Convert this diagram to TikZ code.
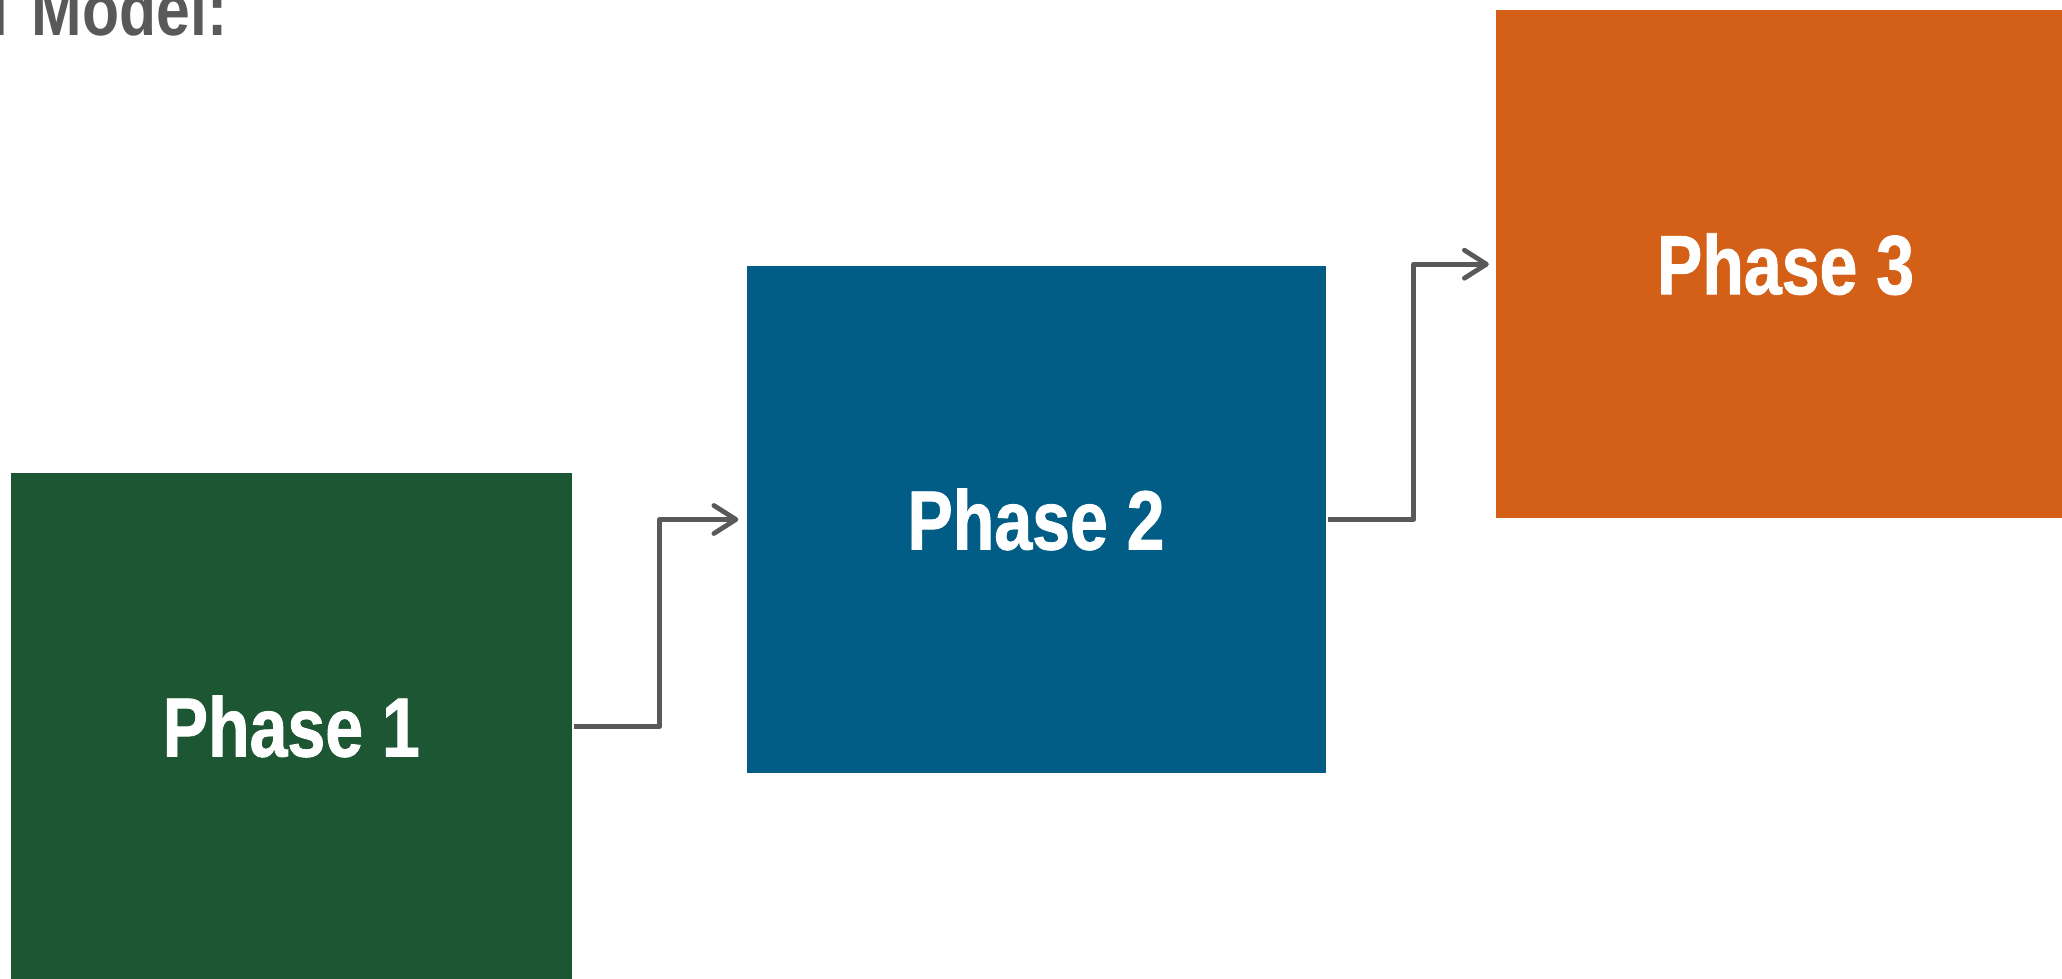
\documentclass[tikz,border=0pt]{standalone}
\usepackage{fontspec}
\setmainfont{Liberation Sans}
\newfontfamily\narrowfont[FakeStretch=0.81,FakeBold=1]{Liberation Sans}
\newfontfamily\headfont[FakeStretch=0.82]{Liberation Sans}
\usetikzlibrary{arrows.meta}

\definecolor{phgreen}{RGB}{28,86,51}
\definecolor{phblue}{RGB}{1,93,133}
\definecolor{phorange}{RGB}{212,95,22}
\definecolor{linegray}{RGB}{89,89,89}

\tikzset{
  phase/.style={rectangle, draw=none, inner sep=0pt, text=white,
    font=\narrowfont\bfseries\fontsize{84}{84}\selectfont},
  conn/.style={draw=linegray, line width=4.8pt, line join=round,
    -{Straight Barb[length=22pt, width=28pt, round]}},
}

\begin{document}
\begin{tikzpicture}[x=1pt, y=-1pt]
\useasboundingbox (0,0) rectangle (2062,979);

% heading, running off the top-left corner
\node[anchor=base east, inner sep=0pt, text=linegray,
      font=\headfont\bfseries\fontsize{74}{74}\selectfont] (title) at (227.5,36) {l\hspace{7pt} Model:};

% the three phases, stepping upward
\node[phase, fill=phgreen, minimum width=560.5pt, minimum height=507pt] (p1) at (291.25,726.5) {Phase 1};
\node[phase, fill=phblue, minimum width=579pt, minimum height=507pt] (p2) at (1036,519.5) {Phase 2};
\node[phase, fill=phorange, minimum width=579pt, minimum height=508pt] (p3) at (1785.5,264.2) {Phase 3};

% stepped connectors
\draw[conn] ([xshift=2pt]p1.east) -- ++(86,0) |- ([xshift=-8pt]p2.west);
\draw[conn] ([xshift=2pt]p2.east) -- ++(86,0) |- ([xshift=-7pt]p3.west);
\end{tikzpicture}
\end{document}
